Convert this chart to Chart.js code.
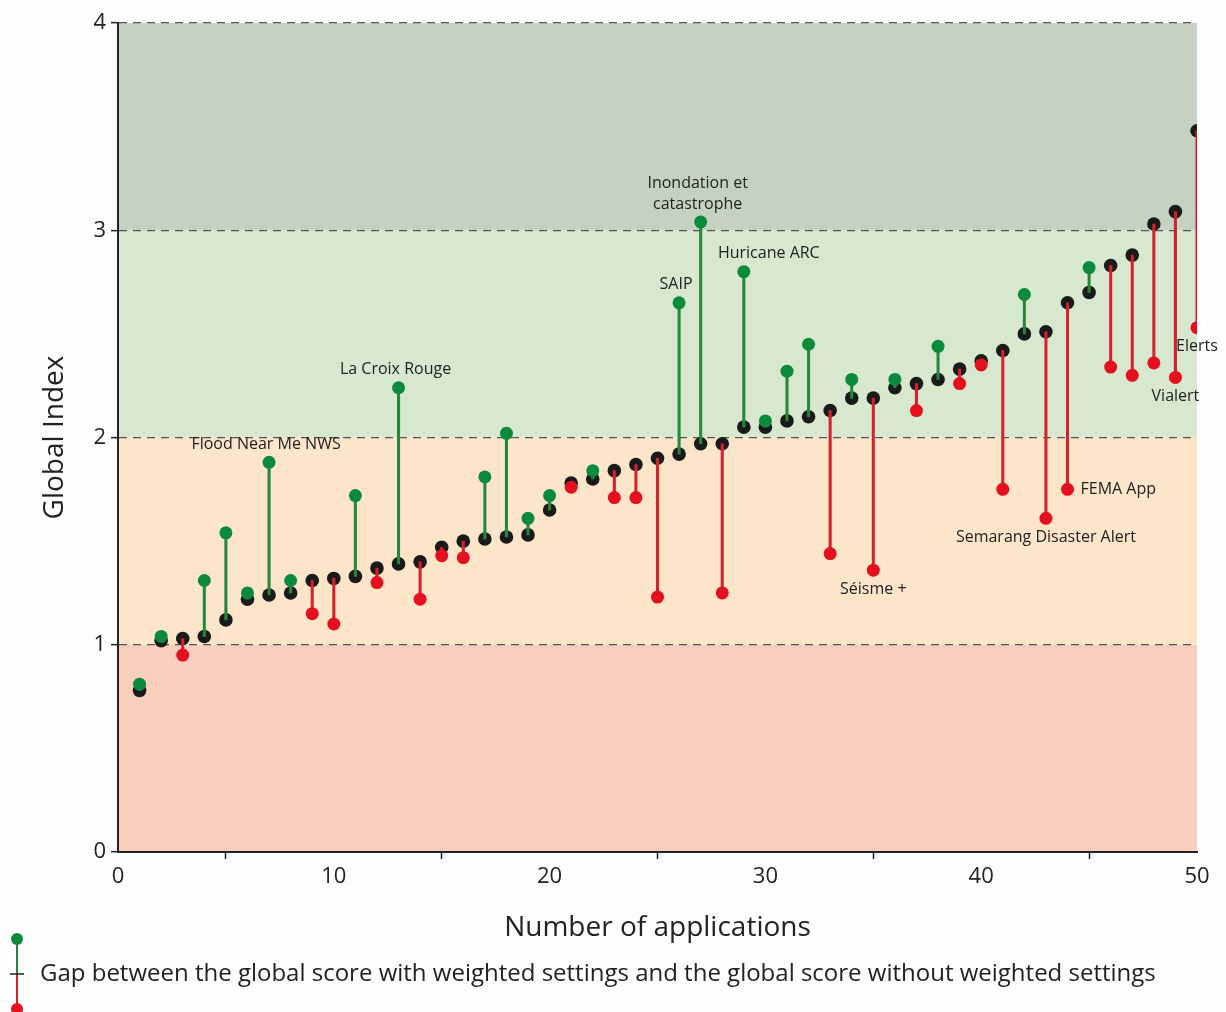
<!DOCTYPE html>
<html>
<head>
<meta charset="utf-8">
<script src="https://cdn.jsdelivr.net/npm/chart.js@4/dist/chart.umd.min.js"></script>
<style>
  html, body { margin: 0; padding: 0; background: #fdfdfd; }
  #wrap { width: 1226px; height: 1012px; }
</style>
</head>
<body>
<div id="wrap"><canvas id="myChart" width="1226" height="1012"></canvas></div>
<script>
// applications ranked 1..50 by global score (without weighting)
var apps = [];
for (var i = 1; i <= 50; i++) apps.push(i);

var scoreBase = [0.78, 1.02, 1.03, 1.04, 1.12, 1.22, 1.24, 1.25, 1.31, 1.32,
                 1.33, 1.37, 1.39, 1.40, 1.47, 1.50, 1.51, 1.52, 1.53, 1.65,
                 1.78, 1.80, 1.84, 1.87, 1.90, 1.92, 1.97, 1.97, 2.05, 2.05,
                 2.08, 2.10, 2.13, 2.19, 2.19, 2.24, 2.26, 2.28, 2.33, 2.37,
                 2.42, 2.50, 2.51, 2.65, 2.70, 2.83, 2.88, 3.03, 3.09, 3.48];

var scoreWeighted = [0.81, 1.04, 0.95, 1.31, 1.54, 1.25, 1.88, 1.31, 1.15, 1.10,
                     1.72, 1.30, 2.24, 1.22, 1.43, 1.42, 1.81, 2.02, 1.61, 1.72,
                     1.76, 1.84, 1.71, 1.71, 1.23, 2.65, 3.04, 1.25, 2.80, 2.08,
                     2.32, 2.45, 1.44, 2.28, 1.36, 2.28, 2.13, 2.44, 2.26, 2.35,
                     1.75, 2.69, 1.61, 1.75, 2.82, 2.34, 2.30, 2.36, 2.29, 2.53];

// labelled applications
var noteText = ['Flood Near Me NWS', 'La Croix Rouge', 'SAIP', 'Inondation et\ncatastrophe',
                'Huricane ARC', 'Séisme +', 'Semarang Disaster Alert', 'FEMA App', 'Vialert', 'Elerts'];
var noteApp = [7, 13, 26, 27, 29, 35, 43, 44, 49, 50];
var notePlace = ['above', 'above', 'above', 'above', 'aboveRight', 'below', 'below', 'right', 'below', 'below'];

// score bands
var bandFrom = [0, 1, 2, 3];
var bandTo = [1, 2, 3, 4];

var legendText = 'Gap between the global score with weighted settings and the global score without weighted settings';

var bandColors = ['#f8cebd', '#fde5c9', '#d7e8cf', '#c5d2c1'];
var upColor = '#0b8a3b';
var downColor = '#e5101f';
var upStem = '#23883b';
var downStem = '#d3222c';
var baseColor = '#1a1a1a';
var fontFamily = '"Open Sans", "Noto Sans", sans-serif';

var baseData = apps.map((a, i) => ({x: a, y: scoreBase[i]}));
var weightedData = apps.map((a, i) => ({x: a, y: scoreWeighted[i]}));
var gapData = apps.map((a, i) => ({x: a, y: [scoreBase[i], scoreWeighted[i]]}));
var isUp = apps.map((a, i) => scoreWeighted[i] >= scoreBase[i]);

const bandsPlugin = {
    id: 'bands',
    beforeDraw(chart) {
        const {ctx, chartArea, scales} = chart;
        ctx.save();
        bandFrom.forEach((f, i) => {
            const top = scales.y.getPixelForValue(bandTo[i]);
            const bottom = scales.y.getPixelForValue(f);
            ctx.fillStyle = bandColors[i];
            ctx.fillRect(chartArea.left, top, chartArea.right - chartArea.left, bottom - top);
        });
        ctx.restore();
    }
};

const notesPlugin = {
    id: 'notes',
    afterDatasetsDraw(chart) {
        const {ctx, scales} = chart;
        ctx.save();
        ctx.font = '16px ' + fontFamily;
        ctx.fillStyle = '#222';
        noteText.forEach((t, i) => {
            const k = noteApp[i] - 1;
            const px = scales.x.getPixelForValue(noteApp[i]);
            const py = scales.y.getPixelForValue(scoreWeighted[k]);
            const lines = t.split('\n');
            const place = notePlace[i];
            ctx.textBaseline = 'middle';
            if (place === 'right') {
                ctx.textAlign = 'left';
                ctx.fillText(lines[0], px + 13, py);
                return;
            }
            ctx.textAlign = 'center';
            if (place === 'below') {
                lines.forEach((l, j) => ctx.fillText(l, px, py + 19 + j * 21));
            } else {
                var dx = place === 'aboveRight' ? 25 : -3;
                lines.forEach((l, j) => ctx.fillText(l, px + dx, py - 18 - (lines.length - 1 - j) * 21));
            }
        });
        ctx.restore();
    }
};

// legend below the axis title: stem glyph + text
const gapLegendPlugin = {
    id: 'gapLegend',
    afterDraw(chart) {
        const ctx = chart.ctx;
        const cx = 17, cy = 974;
        ctx.save();
        ctx.lineWidth = 2;
        ctx.strokeStyle = upStem;
        ctx.beginPath(); ctx.moveTo(cx, cy - 34); ctx.lineTo(cx, cy); ctx.stroke();
        ctx.strokeStyle = downStem;
        ctx.beginPath(); ctx.moveTo(cx, cy); ctx.lineTo(cx, cy + 34); ctx.stroke();
        ctx.strokeStyle = '#222';
        ctx.lineWidth = 1.5;
        ctx.beginPath(); ctx.moveTo(cx - 7, cy); ctx.lineTo(cx + 7, cy); ctx.stroke();
        ctx.fillStyle = upColor;
        ctx.beginPath(); ctx.arc(cx, cy - 35, 6, 0, Math.PI * 2); ctx.fill();
        ctx.fillStyle = downColor;
        ctx.beginPath(); ctx.arc(cx, cy + 35, 6, 0, Math.PI * 2); ctx.fill();
        ctx.font = '24px ' + fontFamily;
        ctx.fillStyle = '#222';
        ctx.textAlign = 'left';
        ctx.textBaseline = 'middle';
        ctx.fillText(legendText, 40, cy);
        ctx.restore();
    }
};

const config = {
    type: 'scatter',
    data: {
        datasets: [
            {
                label: 'weighted',
                type: 'scatter',
                data: weightedData,
                pointRadius: 6.5,
                pointHoverRadius: 6.5,
                pointBorderWidth: 0,
                pointBackgroundColor: isUp.map(u => u ? upColor : downColor),
                order: 0
            },
            {
                label: 'gap',
                type: 'bar',
                data: gapData,
                barThickness: 2.4,
                backgroundColor: isUp.map(u => u ? upStem : downStem),
                borderWidth: 0,
                order: 1
            },
            {
                label: 'base',
                type: 'scatter',
                data: baseData,
                pointRadius: 6.8,
                pointHoverRadius: 6.8,
                pointBorderWidth: 0,
                pointBackgroundColor: baseColor,
                order: 2
            }
        ]
    },
    options: {
        responsive: false,
        devicePixelRatio: 1,
        animation: false,
        layout: {
            padding: {left: 0, right: 29, top: 23, bottom: 63}
        },
        scales: {
            x: {
                type: 'linear',
                min: 0,
                max: 50,
                offset: false,
                grid: {
                    drawOnChartArea: false,
                    drawTicks: true,
                    tickLength: 7,
                    tickColor: '#222',
                    tickWidth: 1.5
                },
                border: {color: '#222', width: 2},
                ticks: {
                    stepSize: 10,
                    color: '#222',
                    padding: 5,
                    font: {size: 22, family: fontFamily}
                },
                title: {
                    display: true,
                    text: 'Number of applications',
                    color: '#222',
                    padding: {top: 16, bottom: 4},
                    font: {size: 28, family: fontFamily}
                }
            },
            y: {
                min: 0,
                max: 4,
                afterFit(scale) { scale.width = 118; },
                grid: {
                    color: c => c.tick && c.tick.value === 0 ? 'rgba(0,0,0,0)' : '#555',
                    lineWidth: 1.3,
                    drawTicks: true,
                    tickLength: 7,
                    tickColor: '#222',
                    tickWidth: 1.5
                },
                border: {color: '#222', width: 2, dash: [8, 6]},
                ticks: {
                    stepSize: 1,
                    color: '#222',
                    padding: 5,
                    font: {size: 22, family: fontFamily}
                },
                title: {
                    display: true,
                    text: 'Global Index',
                    color: '#222',
                    padding: {top: 38, bottom: 0},
                    font: {size: 28, family: fontFamily}
                }
            }
        },
        plugins: {
            tooltip: {enabled: false},
            legend: {display: false}
        }
    },
    plugins: [bandsPlugin, notesPlugin, gapLegendPlugin]
};

var myChart = new Chart(
    document.getElementById('myChart'),
    config
);
</script>
</body>
</html>
